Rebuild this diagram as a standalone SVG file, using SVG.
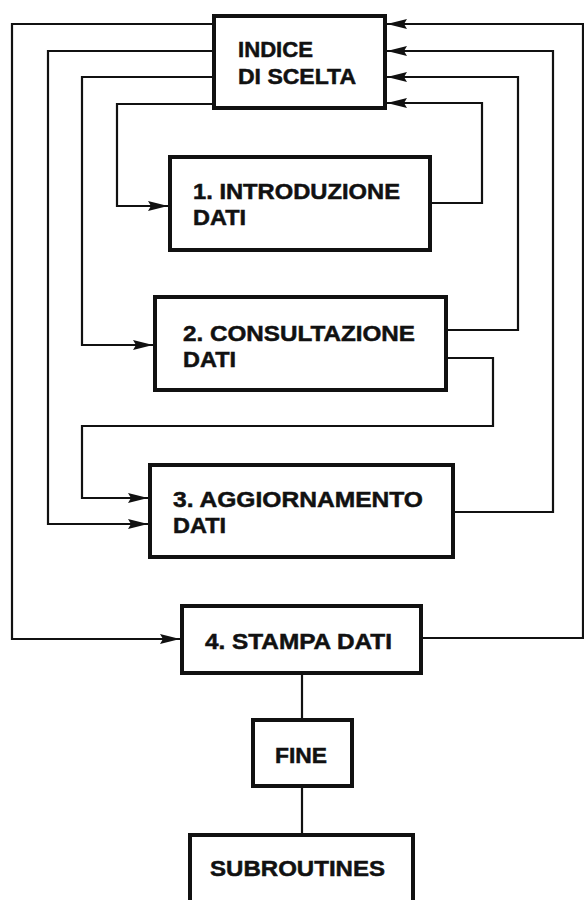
<svg xmlns="http://www.w3.org/2000/svg" width="584" height="900" viewBox="0 0 584 900">
  <style>
    .box { fill: #ffffff; stroke: #111111; stroke-width: 4; stroke-linejoin: miter; }
    .lbl { font-family: "Liberation Sans", Arial, Helvetica, sans-serif; font-weight: bold; font-size: 22px; fill: #111111; stroke: #111111; stroke-width: 0.5; }
    .wire { fill: none; stroke: #111111; stroke-width: 2.2; }
    .arr { marker-end: url(#head); }
  </style>
  <defs>
    <marker id="head" markerWidth="20" markerHeight="11" refX="20" refY="5.5" orient="auto" markerUnits="userSpaceOnUse">
      <path d="M0,0.5 L20,5.5 L0,10.5 L3,5.5 Z" fill="#111111"/>
    </marker>
  </defs>
  <rect width="584" height="900" fill="#ffffff"/>

  <!-- connectors -->
  <g id="connectors">
    <!-- menu to each option (left side) -->
    <path class="wire arr" d="M212,24 H12 V639 H180"/>
    <path class="wire arr" d="M212,51 H48 V524 H148"/>
    <path class="wire arr" d="M212,77 H82 V345 H153"/>
    <path class="wire arr" d="M212,104 H117 V206 H168"/>
    <!-- each option back to the menu (right side) -->
    <path class="wire arr" d="M432,203 H482 V103 H387"/>
    <path class="wire arr" d="M448,330 H518 V77 H387"/>
    <path class="wire arr" d="M455,512 H553 V51 H387"/>
    <path class="wire arr" d="M423,638 H583 V24 H387"/>
    <!-- consultation to update -->
    <path class="wire arr" d="M448,358 H493 V426 H82 V498 H148"/>
    <!-- print chain -->
    <path class="wire" d="M302,675 V718"/>
    <path class="wire" d="M302,788 V833"/>
  </g>

  <g id="indice">
    <rect class="box" x="214" y="16" width="171" height="92"/>
    <text class="lbl" x="238" y="57" textLength="75" lengthAdjust="spacingAndGlyphs">INDICE</text>
    <text class="lbl" x="238" y="84" textLength="118" lengthAdjust="spacingAndGlyphs">DI SCELTA</text>
  </g>

  <g id="introduzione">
    <rect class="box" x="170" y="157" width="260" height="93"/>
    <text class="lbl" x="193" y="199" textLength="207" lengthAdjust="spacingAndGlyphs">1. INTRODUZIONE</text>
    <text class="lbl" x="193" y="225" textLength="53" lengthAdjust="spacingAndGlyphs">DATI</text>
  </g>

  <g id="consultazione">
    <rect class="box" x="155" y="297" width="291" height="93"/>
    <text class="lbl" x="183" y="341" textLength="232" lengthAdjust="spacingAndGlyphs">2. CONSULTAZIONE</text>
    <text class="lbl" x="183" y="367" textLength="53" lengthAdjust="spacingAndGlyphs">DATI</text>
  </g>

  <g id="aggiornamento">
    <rect class="box" x="150" y="465" width="303" height="92"/>
    <text class="lbl" x="173" y="507" textLength="250" lengthAdjust="spacingAndGlyphs">3. AGGIORNAMENTO</text>
    <text class="lbl" x="173" y="533" textLength="53" lengthAdjust="spacingAndGlyphs">DATI</text>
  </g>

  <g id="stampa">
    <rect class="box" x="182" y="606" width="239" height="67"/>
    <text class="lbl" x="205" y="649" textLength="187" lengthAdjust="spacingAndGlyphs">4. STAMPA DATI</text>
  </g>

  <g id="fine">
    <rect class="box" x="253" y="720" width="99" height="66"/>
    <text class="lbl" x="275" y="763" textLength="52" lengthAdjust="spacingAndGlyphs">FINE</text>
  </g>

  <g id="subroutines">
    <rect class="box" x="190" y="835" width="223" height="80"/>
    <text class="lbl" x="210" y="876" textLength="175" lengthAdjust="spacingAndGlyphs">SUBROUTINES</text>
  </g>
</svg>
